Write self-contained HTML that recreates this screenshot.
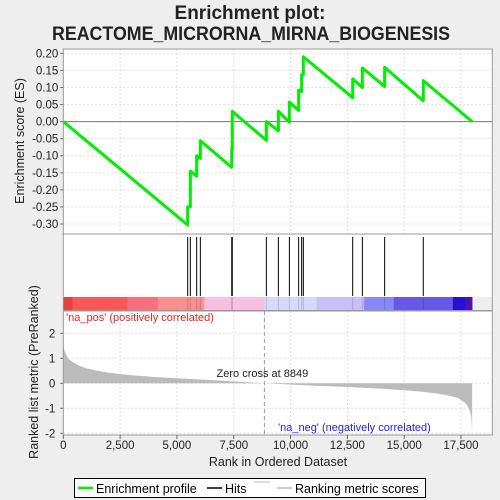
<!DOCTYPE html>
<html><head><meta charset="utf-8"><style>
body{margin:0;background:#eeeeee;}
svg{display:block;font-family:"Liberation Sans",sans-serif;}
</style></head><body>
<svg id="chart" width="500" height="500" viewBox="0 0 500 500">
<rect x="0" y="0" width="500" height="500" fill="#eeeeee"/>
<text x="250" y="19" text-anchor="middle" font-size="19" font-weight="bold" fill="#222">Enrichment plot:</text>
<text x="251" y="40" text-anchor="middle" font-size="19" font-weight="bold" fill="#222" textLength="398" lengthAdjust="spacingAndGlyphs">REACTOME_MICRORNA_MIRNA_BIOGENESIS</text>
<g id="es-panel"></g>
<g id="hits-panel"></g>
<g id="metric-panel"></g>
<g>
<rect x="74.5" y="478.5" width="351" height="19" fill="#fff" stroke="#000"/>
<line x1="78" y1="488" x2="93" y2="488" stroke="#00ee00" stroke-width="2.5"/>
<text x="96" y="493" font-size="12.5" fill="#000">Enrichment profile</text>
<line x1="207" y1="488" x2="222" y2="488" stroke="#000" stroke-width="1.5"/>
<text x="225" y="493" font-size="12.5" fill="#000">Hits</text>
<line x1="254" y1="482" x2="270" y2="482" stroke="#bbb"/>
<line x1="277" y1="488" x2="292" y2="488" stroke="#bbb" stroke-width="1.5"/>
<text x="295" y="493" font-size="12.5" fill="#000">Ranking metric scores</text>
</g>
</svg>
<script>
const xTicks=[0,2500,5000,7500,10000,12500,15000,17500];
const xTickLabels=["0","2,500","5,000","7,500","10,000","12,500","15,000","17,500"];
const esTicks=[0.20,0.15,0.10,0.05,0.00,-0.05,-0.10,-0.15,-0.20,-0.25,-0.30];
const metricTicks=[2,1,0,-1,-2];
const hitRanks=[5474,5590,5869,6030,7412,7436,8935,9464,9948,10356,10488,10562,12734,13160,14140,15840];
const esBefore=[-0.303,-0.25,-0.16,-0.108,-0.134,-0.08,-0.055,-0.027,-0.002,0.033,0.088,0.137,0.07,0.10,0.103,0.061];
const esAfter=[-0.25,-0.145,-0.10,-0.056,-0.08,0.03,0.0,0.03,0.057,0.092,0.137,0.19,0.125,0.157,0.159,0.12];
const totalRanks=17990;
const metricRanks=[0,50,200,400,700,1000,1500,2000,3000,4000,5000,6000,7000,8000,8849,10000,11000,12000,13000,14000,15000,15800,16500,17000,17400,17700,17850,17950,17990];
const metricValues=[1.6,1.3,1.0,0.85,0.7,0.6,0.5,0.42,0.32,0.25,0.2,0.15,0.1,0.05,0,-0.05,-0.1,-0.13,-0.17,-0.22,-0.28,-0.34,-0.42,-0.5,-0.6,-0.8,-1.0,-1.3,-1.9];
const barColors=["#e84040","#f85858","#f87080","#f89090","#f8c0e0","#d8d8f8","#c8c0f8","#8888f8","#6858e8","#2810d0","#5010b0"];
const barStarts=[0,410,2820,4160,6200,8850,11140,13230,14540,17140,17700];
const barEnds=[410,2820,4160,6200,8850,11140,13230,14540,17140,17700,17990];

const NS="http://www.w3.org/2000/svg";
const L=63.3,R=492.3;
const X=r=>L+r*0.022726;
const esY=v=>121.6-v*341.3;
const mY=v=>383.3-v*25;
function mk(tag,attrs,parent){const e=document.createElementNS(NS,tag);for(const k in attrs)e.setAttribute(k,attrs[k]);parent.appendChild(e);return e;}
const es=document.getElementById('es-panel'),hp=document.getElementById('hits-panel'),mp=document.getElementById('metric-panel');

// ES panel
mk('rect',{x:L,y:49,width:R-L,height:185,fill:'#fff'},es);
xTicks.forEach(t=>{mk('line',{x1:X(t),y1:49,x2:X(t),y2:234,stroke:'#ddd','stroke-dasharray':'2,2'},es);});
esTicks.forEach(t=>{
 mk('line',{x1:L,y1:esY(t),x2:R,y2:esY(t),stroke:'#ddd','stroke-dasharray':'2,2'},es);
 mk('line',{x1:L-3,y1:esY(t),x2:L,y2:esY(t),stroke:'#666'},es);
 const tx=mk('text',{x:L-5,y:esY(t)+4,'text-anchor':'end','font-size':'11.5',fill:'#222'},es);
 tx.textContent=t.toFixed(2);
 
 
});
mk('line',{x1:L,y1:esY(0),x2:R,y2:esY(0),stroke:'#777'},es);
let pts=[[X(0),esY(0)]];
hitRanks.forEach((r,i)=>{pts.push([X(r),esY(esBefore[i])]);pts.push([X(r),esY(esAfter[i])]);});
pts.push([X(totalRanks),esY(0)]);
const pl=mk('polyline',{points:pts.map(p=>p.join(',')).join(' '),fill:'none',stroke:'#00ee00','stroke-width':'3','stroke-linejoin':'round'},es);


mk('rect',{x:L,y:49,width:R-L,height:185,fill:'none',stroke:'#999'},es);
const yl=mk('text',{x:0,y:0,transform:'translate(24,141) rotate(-90)','text-anchor':'middle','font-size':'12.5',fill:'#222'},es);
yl.textContent='Enrichment score (ES)';



// hits panel
mk('rect',{x:L,y:234,width:R-L,height:63,fill:'#fff'},hp);
hitRanks.forEach(r=>{
 const h=mk('line',{x1:X(r),y1:237,x2:X(r),y2:296,stroke:'#000','stroke-width':'1'},hp);
 
 
});
barColors.forEach((c,i)=>{
 const b=mk('rect',{x:X(barStarts[i]),y:297,width:X(barEnds[i])-X(barStarts[i])+0.3,height:13.5,fill:c},hp);
 
 
});
hitRanks.forEach(r=>{mk('line',{x1:X(r),y1:297,x2:X(r),y2:310.5,stroke:'rgba(0,0,0,0.15)'},hp);});
mk('rect',{x:L,y:234,width:R-L,height:76.5,fill:'none',stroke:'#999'},hp);

// metric panel
mk('rect',{x:L,y:311,width:R-L,height:124,fill:'#fff'},mp);
xTicks.forEach(t=>{mk('line',{x1:X(t),y1:311,x2:X(t),y2:435,stroke:'#ddd','stroke-dasharray':'2,2'},mp);});
metricTicks.forEach(t=>{
 mk('line',{x1:L,y1:mY(t),x2:R,y2:mY(t),stroke:'#ddd','stroke-dasharray':'2,2'},mp);
 mk('line',{x1:L-3,y1:mY(t),x2:L,y2:mY(t),stroke:'#666'},mp);
 const tx=mk('text',{x:L-8,y:mY(t)+4,'text-anchor':'end','font-size':'11.5',fill:'#222'},mp);
 tx.textContent=String(t);
 
 
});
let ap='M'+X(0)+','+mY(0);
metricRanks.forEach((r,i)=>{ap+=' L'+X(r)+','+mY(metricValues[i]);});
ap+=' L'+X(totalRanks)+','+mY(0)+' Z';
const area=mk('path',{d:ap,fill:'#bbbbbb',stroke:'none'},mp);


mk('line',{x1:X(8849),y1:311,x2:X(8849),y2:435,stroke:'#999','stroke-dasharray':'4,3'},mp);
const zc=mk('text',{x:X(8849)-2,y:377,'text-anchor':'middle','font-size':'11',fill:'#222'},mp);
zc.textContent='Zero cross at 8849';


const np=mk('text',{x:66,y:321,'font-size':'11',fill:'#ee2222'},mp);
np.textContent="'na_pos' (positively correlated)";


const nn=mk('text',{x:278,y:431,'font-size':'11',fill:'#2222ee'},mp);
nn.textContent="'na_neg' (negatively correlated)";


mk('rect',{x:L,y:311,width:R-L,height:124,fill:'none',stroke:'#999'},mp);
xTicks.forEach((t,i)=>{
 mk('line',{x1:X(t),y1:435,x2:X(t),y2:439,stroke:'#666'},mp);
 const tx=mk('text',{x:X(t),y:449,'text-anchor':'middle','font-size':'11.5',fill:'#222'},mp);
 tx.textContent=xTickLabels[i];
 
 
});
const xt=mk('text',{x:278,y:466,'text-anchor':'middle','font-size':'12.5',fill:'#222'},mp);
xt.textContent='Rank in Ordered Dataset';


const ml=mk('text',{x:0,y:0,transform:'translate(38,372) rotate(-90)','text-anchor':'middle','font-size':'12.5',fill:'#222'},mp);
ml.textContent='Ranked list metric (PreRanked)';


</script>
</body></html>
